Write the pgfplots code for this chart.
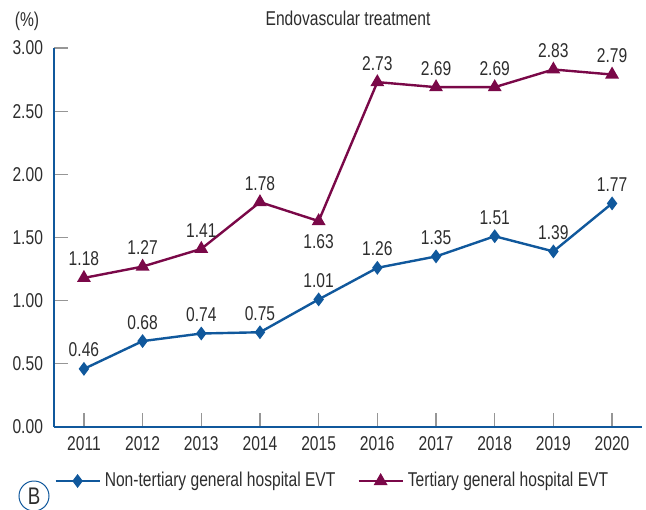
\documentclass[border=0pt]{standalone}
\usepackage{pgfplots}
\pgfplotsset{compat=1.18}
\usepackage{fontspec}
\setmainfont{Liberation Sans}[FakeStretch=0.78]
\definecolor{evtblue}{RGB}{16,88,156}
\definecolor{evtmaroon}{RGB}{122,8,72}
\definecolor{txt}{RGB}{45,45,45}
\definecolor{tickgray}{RGB}{150,150,150}
\newcommand{\lbl}{\fontsize{10}{11}\selectfont}
\begin{document}
\begin{tikzpicture}
\useasboundingbox (0,0) rectangle (323pt,254.5pt);
\begin{axis}[
  at={(27pt,41pt)}, anchor=south west,
  scale only axis, width=294pt, height=189.5pt,
  xmin=2010.49, xmax=2020.51, ymin=0, ymax=3,
  axis x line=bottom, axis y line=left,
  axis line style={evtblue, line width=1pt, -},
  xtick={2011,2012,...,2020}, ytick={0,0.5,...,3},
  tick align=inside, major tick length=7pt,
  tick style={tickgray, line width=0.6pt},
  /pgf/number format/assume math mode=true,
  x tick label style={/pgf/number format/1000 sep={}, text=txt, font=\lbl, yshift=-1pt},
  y tick label style={/pgf/number format/.cd, fixed, fixed zerofill, precision=2, /tikz/.cd, text=txt, font=\lbl, xshift=-2pt},
  legend columns=2,
  legend style={at={(0,-0.1425)}, anchor=west, draw=none, fill=none, font=\lbl, text=txt,
    inner xsep=0pt, inner ysep=0pt,
    /tikz/every even column/.append style={column sep=9pt}},
  legend cell align=left,
  legend image code/.code={\draw[mark repeat=2,mark phase=2] plot coordinates {(0pt,0pt) (11pt,0pt) (22pt,0pt)};},
  nodes near coords style={text=txt, font=\lbl},
  clip=false,
]
\addplot[evtblue, line width=1.2pt, mark=diamond*, mark size=2.5pt, mark options={solid},
  nodes near coords, point meta=explicit symbolic,
  every node near coord/.append style={anchor=south, yshift=2pt}]
  coordinates {
  (2011,0.46) [0.46] (2012,0.68) [0.68] (2013,0.74) [0.74] (2014,0.75) [0.75] (2015,1.01) [1.01]
  (2016,1.26) [1.26] (2017,1.35) [1.35] (2018,1.51) [1.51] (2019,1.39) [1.39] (2020,1.77) [1.77]
  };
\addlegendentry{Non-tertiary general hospital EVT}
\addplot[evtmaroon, line width=1.2pt, mark=triangle*, mark size=2.8pt, mark options={solid},
  nodes near coords, point meta=explicit symbolic,
  every node near coord/.append style={anchor=south, yshift=2pt}]
  coordinates {
  (2011,1.18) [1.18] (2012,1.27) [1.27] (2013,1.41) [1.41] (2014,1.78) [1.78] (2015,1.63) []
  (2016,2.73) [2.73] (2017,2.69) [2.69] (2018,2.69) [2.69] (2019,2.83) [2.83] (2020,2.79) [2.79]
  };
\addlegendentry{Tertiary general hospital EVT}
\addplot[draw=none, mark=none, forget plot, nodes near coords, point meta=explicit symbolic,
  every node near coord/.append style={anchor=north, yshift=-3pt}]
  coordinates {(2015,1.63) [1.63]};
\node[text=txt, font=\lbl] at (rel axis cs:0.5,1) [yshift=15pt] {Endovascular treatment};
\end{axis}
\node[text=txt, font=\lbl] at (13.5pt,244pt) {(\%)};
\draw[evtblue, line width=0.5pt] (17pt,6.5pt) circle (7.5pt);
\node[text=txt, font=\fontsize{12}{13}\selectfont] at (17pt,6.5pt) {B};
\end{tikzpicture}
\end{document}
